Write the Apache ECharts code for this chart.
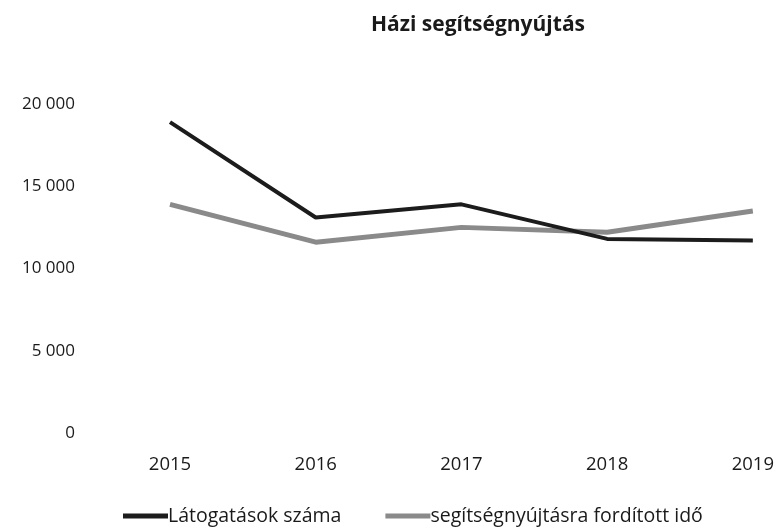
<!DOCTYPE html>
<html>
<head>
<meta charset="utf-8">
<script src="https://cdn.jsdelivr.net/npm/echarts@6/dist/echarts.min.js"></script>
<style>
  html, body { margin: 0; padding: 0; background: #fff; }
  #main { width: 777px; height: 529px; }
</style>
</head>
<body>
<div id="main"></div>
<script>
var years = ['2015', '2016', '2017', '2018', '2019'];
var latogatasok = [18900, 13100, 13900, 11800, 11700];
var segitsegIdo = [13900, 11600, 12500, 12200, 13500];
var yTicks = [0, 5000, 10000, 15000, 20000];

var myChart = echarts.init(document.getElementById('main'));
var fontName = '"Open Sans", "Noto Sans", sans-serif';

function fmt(v) {
    // szóköz az ezres elválasztó
    return String(v).replace(/\B(?=(\d{3})+(?!\d))/g, ' ');
}

var option = {
    backgroundColor: '#fff',
    title: {
        text: 'Házi segítségnyújtás',
        left: 366,
        top: 10,
        textStyle: { fontFamily: fontName, fontSize: 21, fontWeight: 'bold', color: '#1a1a1a' }
    },
    legend: {
        bottom: -2,
        left: 118,
        itemWidth: 45,
        itemHeight: 5,
        itemGap: 44,
        icon: 'rect',
        textStyle: { fontFamily: fontName, fontSize: 19.5, color: '#1a1a1a', padding: [0, 0, 0, -5] },
        data: ['Látogatások száma', 'segítségnyújtásra fordított idő']
    },
    grid: { left: 170, right: 20, top: 104, bottom: 96 },
    xAxis: {
        type: 'category',
        boundaryGap: false,
        data: years,
        axisLine: { show: false },
        axisTick: { show: false },
        axisLabel: { margin: 22, fontFamily: fontName, fontSize: 18.5, color: '#1a1a1a' }
    },
    yAxis: {
        type: 'value',
        min: yTicks[0],
        max: yTicks[yTicks.length - 1],
        interval: 5000,
        splitLine: { show: false },
        axisLine: { show: false },
        axisTick: { show: false },
        axisLabel: { margin: 95, fontFamily: fontName, fontSize: 17, color: '#1a1a1a', formatter: fmt }
    },
    series: [
        {
            name: 'Látogatások száma',
            type: 'line',
            data: latogatasok,
            symbol: 'none',
            itemStyle: { color: '#1c1c1c' },
            lineStyle: { width: 4, color: '#1c1c1c' },
            z: 3
        },
        {
            name: 'segítségnyújtásra fordított idő',
            type: 'line',
            data: segitsegIdo,
            symbol: 'none',
            itemStyle: { color: '#8a8a8a' },
            lineStyle: { width: 5, color: '#8a8a8a' },
            z: 2
        }
    ]
};
option && myChart.setOption(option);
</script>
</body>
</html>
